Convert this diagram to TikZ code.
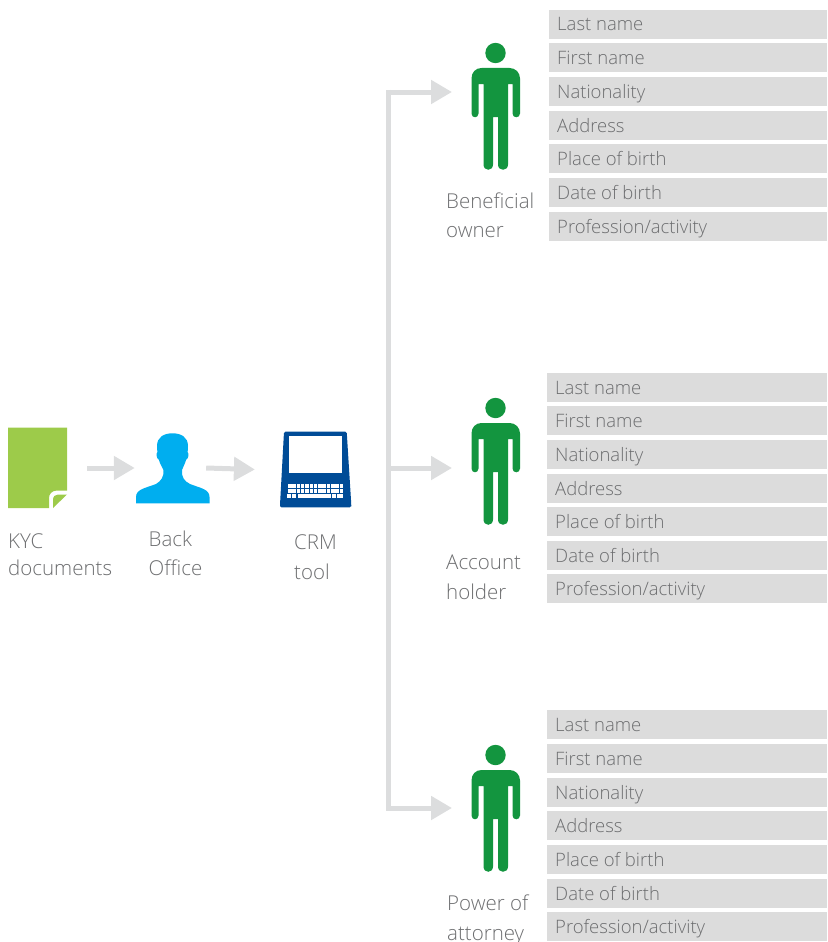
\documentclass[tikz,border=0pt]{standalone}
\usepackage{fontspec}
\setmainfont{Open Sans Light}
\usetikzlibrary{arrows.meta}
\definecolor{txt}{HTML}{6D6E70}
\definecolor{fld}{HTML}{DCDCDC}
\definecolor{arw}{HTML}{DCDDDE}
\definecolor{pgreen}{HTML}{13953F}
\definecolor{docgreen}{HTML}{9DCB4A}
\definecolor{bust}{HTML}{00AEEF}
\definecolor{lap}{HTML}{004C97}
\tikzset{
  x=1pt,y=-1pt,
  field/.style={fill=fld,anchor=north west,minimum width=278pt,minimum height=29pt,inner sep=0pt,
    text=txt,font=\fontsize{18.5}{22}\selectfont},
  lbl/.style={text=txt,inner sep=0pt,anchor=base west,align=left,font=\fontsize{20.5}{29.5}\selectfont},
  flow/.style={draw=arw,line width=5pt,-{Triangle[length=21pt,width=23pt,color=arw]}},
  trunk/.style={draw=arw,line width=5pt},
  anchorbox/.style={inner sep=0pt,minimum width=#1,minimum height=20pt},
  pics/person/.style={code={
    \fill[pgreen] (0,-36.5) circle (10.2);
    \fill[pgreen] (-14,-21.5) -- (14,-21.5) .. controls (20,-21.5) and (24.5,-17) .. (24.5,-11)
      -- (24.5,24) .. controls (24.5,29) and (17,29) .. (17,24) -- (17,-5.5) -- (12.5,-5.5)
      -- (12.5,75) .. controls (12.5,82) and (2.5,82) .. (2.5,75) -- (2.5,27.5) -- (-2.5,27.5)
      -- (-2.5,75) .. controls (-2.5,82) and (-12,82) .. (-12,75) -- (-12,-5.5) -- (-17,-5.5)
      -- (-17,24) .. controls (-17,29) and (-24,29) .. (-24,24) -- (-24,-11)
      .. controls (-24,-17) and (-20,-21.5) .. (-14,-21.5) -- cycle;
  }}
}
\newcommand{\fieldrows}[4]{%
  \node[field,text height=#4] at (#1,0) {};}
\newcommand{\fieldblock}[9]{%
  \foreach \yy/\tt in {#2/Last name,#3/First name,#4/Nationality,#5/Address,#6/Place of birth,#7/Date of birth,#8/Profession\slash activity}{
    \node[field,minimum width=#9pt] at (#1,\yy) {};
    \node[text=txt,inner sep=0pt,anchor=base west,font=\fontsize{18.5}{22}\selectfont] at ($(#1,\yy)+(8,21)$) {\tt};
  }}
\usetikzlibrary{calc}
\begin{document}
\begin{tikzpicture}
\useasboundingbox (0,0) rectangle (827,942);
% document icon
\fill[docgreen] (8,427.5) -- (67,427.5) -- (67,490.5) -- (57,490.5) .. controls (52,490.5) and (49,494) .. (49,498) -- (49,508) -- (8,508) -- cycle;
\fill[docgreen] (53,508) -- (53,500) .. controls (53,496.5) and (55,494.5) .. (58,494.5) -- (67,494.5) -- cycle;
\node[anchorbox=59pt,minimum height=81pt] (doc) at (37.5,468) {};
% bust icon
\fill[bust] (172.5,433.3) .. controls (181,433.3) and (188,437) .. (188,446)
  .. controls (188,449) and (188,450) .. (187.5,452)
  .. controls (189,453) and (189,458) .. (186,460)
  .. controls (185,464) and (183,467) .. (182,470)
  .. controls (181.5,477) and (184,481) .. (190,484)
  .. controls (200,488) and (209.5,489) .. (209.5,497)
  -- (209.5,503.3) -- (136,503.3) -- (136,497)
  .. controls (136,489) and (146,488) .. (156,484)
  .. controls (161,481) and (164,477) .. (163.5,470)
  .. controls (162,467) and (160,464) .. (159,460)
  .. controls (156,458) and (156,453) .. (157.5,452)
  .. controls (157,450) and (157,449) .. (157,446)
  .. controls (157,437) and (164,433.3) .. (172.5,433.3) -- cycle;
\node[anchorbox=74pt,minimum height=70pt] (bo) at (173,468) {};
% laptop icon
\fill[lap,rounded corners=1.5pt] (284,431.7) -- (346.7,431.7) -- (351.3,505) -- (351.3,507.3) -- (280,507.3) -- (280,505) -- cycle;
\fill[white] (289.3,436) rectangle (341.7,473.3);
\foreach \r/\yy in {0/484,1/489}{
  \foreach \k in {0,...,12}{
    \fill[white] ({288+\k*4.3},\yy) rectangle ++(3.5,3.7);
  }}
\fill[white] (287.3,494) rectangle ++(4,3.7);
\fill[white] (292.3,494) rectangle ++(4,3.7);
\fill[white] (297.5,494) rectangle (331,497.7);
\fill[white] (332,494) rectangle ++(4,3.7);
\fill[white] (337,494) rectangle ++(6.3,3.7);
\node[anchorbox=71pt,minimum height=76pt] (crm) at (315.6,469.5) {};
% flow arrows
\draw[flow] ([xshift=20pt]doc.east) -- ([xshift=-1pt]bo.west);
\draw[flow] ([xshift=-4pt]bo.east) -- ([xshift=-25pt]crm.west);
% persons
\pic at (495.5,89.5) {person};
\pic at (495.5,444.5) {person};
\pic at (495.5,791.5) {person};
\coordinate (pa) at (452,92);
\coordinate (pb) at (452,468);
\coordinate (pc) at (452,808);
\coordinate (tt) at (388.5,92);
\coordinate (tb) at (388.5,808);
\coordinate (tm) at (388.5,468);
\draw[flow] (tt) ++(-2.5,0) -- (pa);
\draw[flow] (tb) ++(-2.5,0) -- (pc);
\draw[flow] (tm) -- (pb);
\draw[trunk] (tt) ++(0,-2.5) -- ($(tb)+(0,2.5)$);
% fields
\fieldblock{549}{10}{43}{77}{111}{144}{178}{212}{278}
\fieldblock{547}{373}{406}{440}{474}{507}{541}{574}{280}
\fieldblock{547}{710}{744}{778}{811}{845}{879}{912}{280}
% labels
\node[lbl] (l1) at (8,548) {KYC};
\node[lbl] (l1b) at (8,575.5) {documents};
\node[lbl] (l2) at (148.5,546) {Back};
\node[lbl] (l2b) at (148.5,575) {Office};
\node[lbl] (l3) at (294,549) {CRM};
\node[lbl] (l3b) at (294,579) {tool};
\node[lbl] (l4) at (446,208) {Beneficial};
\node[lbl] (l4b) at (446,237.5) {owner};
\node[lbl] (l5) at (446,569.5) {Account};
\node[lbl] (l5b) at (446,599) {holder};
\node[lbl] (l6) at (447,910) {Power of};
\node[lbl] (l6b) at (447,940) {attorney};
\end{tikzpicture}
\end{document}
